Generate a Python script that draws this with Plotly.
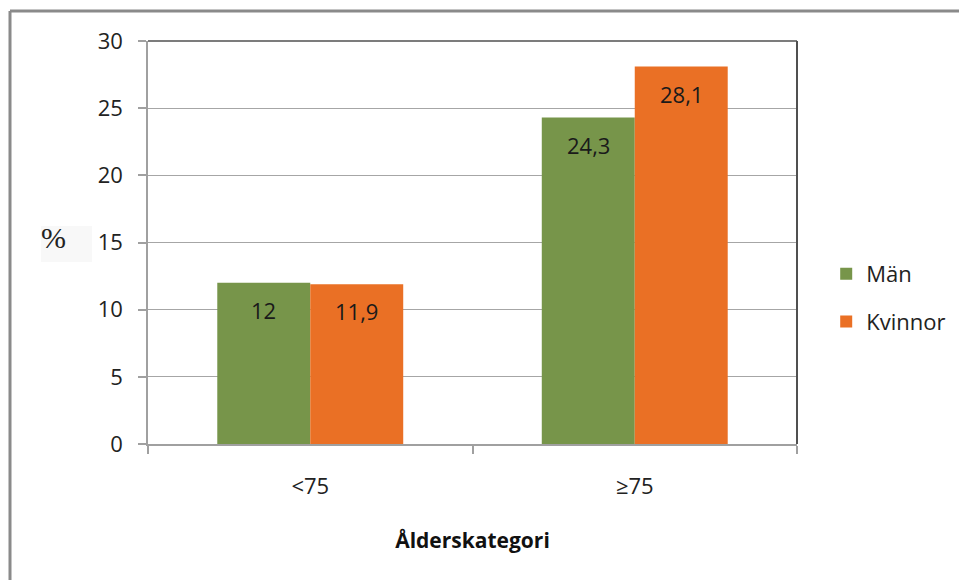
import plotly.graph_objects as go

# Andel (%) per ålderskategori och kön
categories = ["<75", "≥75"]
man_values = [12.0, 24.3]
kvinnor_values = [11.9, 28.1]
series_names = ["Män", "Kvinnor"]
y_ticks = [0, 5, 10, 15, 20, 25, 30]

GREEN = "#77954A"
ORANGE = "#EA7025"
FONT = "Open Sans, DejaVu Sans, sans-serif"

W, H = 959, 580
L, R, T, B = 148, 162, 41, 136
plot_w = W - L - R
plot_h = H - T - B

fig = go.Figure()
fig.add_trace(go.Bar(name=series_names[0], x=categories, y=man_values,
                     marker=dict(color=GREEN, line=dict(width=0)),
                     legendgroup="a"))
fig.add_trace(go.Bar(name=series_names[1], x=categories, y=kvinnor_values,
                     marker=dict(color=ORANGE, line=dict(width=0)),
                     legendgroup="b"))

bargap = 0.427
half = (1 - bargap) / 4


def fmt(v):
    s = f"{v:g}"
    return s.replace(".", ",")


annotations = []
for i, cat in enumerate(categories):
    for v, off in ((man_values[i], -half), (kvinnor_values[i], half)):
        annotations.append(dict(
            x=i + off, y=v, xref="x", yref="y", text=fmt(v),
            showarrow=False, yanchor="middle", yshift=-27,
            font=dict(family=FONT, size=22, color="#1a1a1a")))

# "%" axis label
annotations.append(dict(
    x=(39 - L) / plot_w, y=(T + plot_h - 219) / plot_h,
    xref="paper", yref="paper", text="%", showarrow=False,
    xanchor="left", yanchor="top",
    font=dict(family="Liberation Serif, Times New Roman, serif", size=30,
              color="#222222")))

shapes = [
    # light box behind the "%" label
    dict(type="rect", xref="paper", yref="paper",
         x0=(41 - L) / plot_w, x1=(92 - L) / plot_w,
         y0=(T + plot_h - 262) / plot_h, y1=(T + plot_h - 226) / plot_h,
         fillcolor="#f8f8f8", line=dict(width=0), layer="below"),
    # plot area top and right edges
    dict(type="line", xref="paper", yref="paper", x0=0, x1=1, y0=1, y1=1,
         line=dict(color="#505050", width=1.5)),
    dict(type="line", xref="paper", yref="paper", x0=1, x1=1, y0=1, y1=0,
         line=dict(color="#505050", width=2)),
    # outer frame (top and left)
    dict(type="line", xref="paper", yref="paper",
         x0=(10 - L) / plot_w, x1=(W + 20 - L) / plot_w,
         y0=(T + plot_h - 11) / plot_h, y1=(T + plot_h - 11) / plot_h,
         line=dict(color="#8a8a8a", width=3)),
    dict(type="line", xref="paper", yref="paper",
         x0=(10 - L) / plot_w, x1=(10 - L) / plot_w,
         y0=(T + plot_h - 11) / plot_h, y1=(T + plot_h - H - 20) / plot_h,
         line=dict(color="#8a8a8a", width=3)),
]

fig.update_layout(
    width=W, height=H,
    margin=dict(l=L, r=R, t=T, b=B, pad=0, autoexpand=False),
    paper_bgcolor="white", plot_bgcolor="white",
    barmode="group", bargap=bargap, bargroupgap=0,
    separators=", ",
    font=dict(family=FONT, size=22, color="#222222"),
    showlegend=True,
    legend=dict(x=1.045, y=(T + plot_h - 298) / plot_h,
                xanchor="left", yanchor="middle",
                font=dict(family=FONT, size=22, color="#222222"),
                traceorder="grouped", tracegroupgap=16,
                bgcolor="rgba(0,0,0,0)"),
    annotations=annotations,
    shapes=shapes,
    xaxis=dict(
        type="category", showgrid=False, showline=True,
        linecolor="#a0a0a0", linewidth=1.5,
        ticks="outside", ticklen=8, tickcolor="#a0a0a0", tickwidth=1.5,
        tickson="boundaries", ticklabelstandoff=22,
        tickfont=dict(family=FONT, size=22, color="#222222"),
        title=dict(text="<b>Ålderskategori</b>", standoff=34,
                   font=dict(family=FONT, size=21, color="#111111")),
    ),
    yaxis=dict(
        range=[0, 30], tickvals=y_ticks, showgrid=True,
        gridcolor="#a6a6a6", gridwidth=1,
        showline=True, linecolor="#a0a0a0", linewidth=1.5,
        ticks="outside", ticklen=8, tickcolor="#a0a0a0", tickwidth=1.5,
        ticklabelstandoff=11,
        tickfont=dict(family=FONT, size=22, color="#222222"),
        zeroline=False,
    ),
)

fig.write_html("out.html")
